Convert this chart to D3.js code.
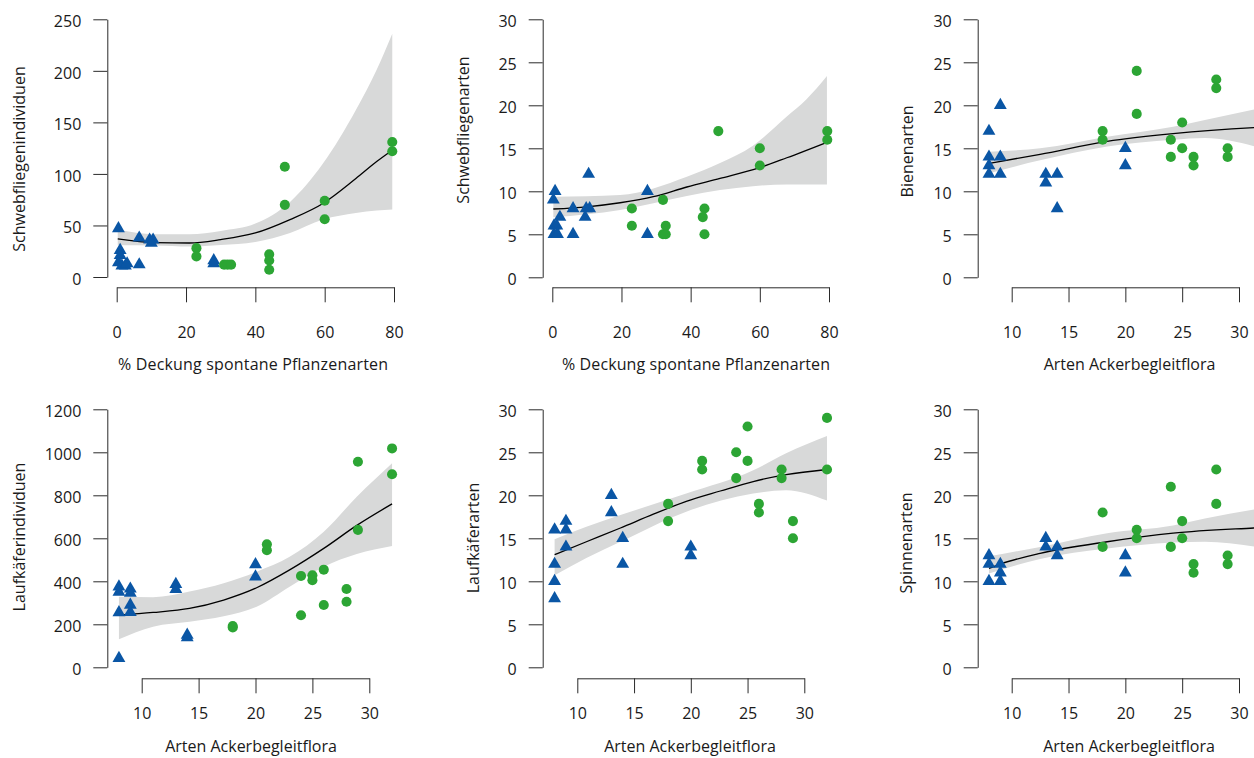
<!DOCTYPE html>
<html>
<head>
<meta charset="utf-8">
<script src="https://cdn.jsdelivr.net/npm/d3@7"></script>
<style>
  html, body { margin: 0; padding: 0; background: #fff; }
  svg text { font-family: "Open Sans", "Noto Sans", sans-serif; fill: #1a1a1a; }
</style>
</head>
<body>
<svg id="chart" width="1254" height="758"></svg>
<script>
// ---------------- DATA ----------------
// tick values
const ticksPct = [0, 20, 40, 60, 80];
const ticksArten = [10, 15, 20, 25, 30];
const ticks30 = [0, 5, 10, 15, 20, 25, 30];
const ticks250 = [0, 50, 100, 150, 200, 250];
const ticks1200 = [0, 200, 400, 600, 800, 1000, 1200];

// axis titles
const xTitlePct = "% Deckung spontane Pflanzenarten";
const xTitleArten = "Arten Ackerbegleitflora";
const yTitles = ["Schwebfliegenindividuen", "Schwebfliegenarten", "Bienenarten",
                 "Laufkäferindividuen", "Laufkäferarten", "Spinnenarten"];

// Panel A: Schwebfliegenindividuen vs % Deckung
const aBlueX = [0.5, 1, 1, 0.5, 1.5, 2.5, 3, 6.5, 6.5, 9.5, 10.5, 10, 28, 28];
const aBlueY = [47, 26, 21, 14, 11, 11, 13, 38, 12, 36, 36, 33, 16, 13];
const aGreenX = [23, 23, 31, 32, 33, 44, 44, 44, 48.5, 48.5, 60, 60, 79.5, 79.5];
const aGreenY = [28, 20, 12, 12, 12, 22, 16, 7, 107, 70, 74, 56, 131, 122];
const aFitX = [0.3, 11, 21, 30, 40, 50, 59.5, 69, 75, 79.5];
const aFit = [37, 33.4, 33, 36.3, 42.7, 55.7, 71.3, 95.5, 112, 123];
const aHi = [46, 41.5, 41.5, 44.7, 51.8, 72.8, 110, 162, 201, 236];
const aLo = [30.8, 30.5, 29.5, 31, 34, 42.7, 55.7, 62, 64.5, 65.4];

// Panel B: Schwebfliegenarten vs % Deckung
const bBlueX = [10.5, 0.8, 0.3, 6, 9.8, 10.8, 9.5, 2.2, 0.5, 1.3, 0.5, 1.5, 6, 27.5, 27.5];
const bBlueY = [12, 10, 9, 8, 8, 8, 7, 7, 6, 6, 5, 5, 5, 10, 5];
const bGreenX = [23, 23, 32, 32.8, 32, 32.8, 44, 43.5, 44, 48, 60, 60, 79.5, 79.5];
const bGreenY = [8, 6, 9, 6, 5, 5, 8, 7, 5, 17, 15, 13, 17, 16];
const bFitX = [0.3, 10, 19.6, 29.2, 38.9, 48.5, 59.9, 67.8, 79.4];
const bFit = [7.94, 8.2, 8.67, 9.37, 10.5, 11.5, 12.75, 13.9, 15.7];
const bBandX = [0.3, 19.6, 38.9, 48.5, 58, 67.8, 73.5, 79.4];
const bHi = [9.37, 9.57, 11.7, 13.3, 15.3, 18.7, 20.7, 23.4];
const bLo = [6.97, 7.83, 9.45, 10.15, 10.6, 10.8, 10.8, 10.8];

// Panel C: Bienenarten vs Arten Ackerbegleitflora
const cBlueX = [8, 9, 8, 8, 8, 9, 9, 13, 13, 14, 14, 20, 20];
const cBlueY = [17, 20, 14, 13, 12, 14, 12, 12, 11, 12, 8, 15, 13];
const cGreenX = [18, 18, 21, 21, 24, 24, 25, 25, 26, 26, 28, 28, 29, 29];
const cGreenY = [17, 16, 24, 19, 16, 14, 18, 15, 14, 13, 23, 22, 15, 14];
const cFitX = [8, 12.5, 18.4, 24.2, 31.3, 32];
const cFit = [13.25, 14.3, 15.8, 16.7, 17.4, 17.45];
const cBandX = [8, 12.5, 18.4, 24.2, 27, 32];
const cHi = [14.6, 15.0, 16.35, 17.5, 18.3, 19.7];
const cLo = [12.1, 13.6, 15.2, 16.0, 16.2, 15.0];

// Panel D: Laufkäferindividuen vs Arten Ackerbegleitflora
const dBlueX = [8, 8, 8, 8, 9, 9, 9, 9, 13, 13, 14, 14, 20, 20];
const dBlueY = [375, 350, 255, 42, 365, 345, 290, 256, 386, 363, 150, 138, 478, 421];
const dGreenX = [18, 18, 21, 21, 24, 24, 25, 25, 26, 26, 28, 28, 29, 29, 32, 32];
const dGreenY = [192, 185, 572, 545, 425, 242, 428, 405, 454, 290, 364, 305, 956, 639, 1018, 898];
const dFitX = [8, 11, 14.2, 17.2, 20.1, 23, 26, 28.9, 32];
const dFit = [243, 255, 274, 313, 370, 453, 553, 660, 760];
const dHi = [328, 326, 352, 391, 445, 514, 631, 793, 949];
const dLo = [130, 189, 212, 238, 282, 375, 468, 527, 564];

// Panel E: Laufkäferarten vs Arten Ackerbegleitflora
const eBlueX = [8, 8, 8, 8, 9, 9, 9, 13, 13, 14, 14, 20, 20];
const eBlueY = [16, 12, 10, 8, 17, 16, 14, 20, 18, 15, 12, 14, 13];
const eGreenX = [18, 18, 21, 21, 24, 24, 25, 25, 26, 26, 28, 28, 29, 29, 32, 32];
const eGreenY = [19, 17, 24, 23, 25, 22, 28, 24, 19, 18, 23, 22, 17, 15, 29, 23];
const eFitX = [8, 10.8, 13.8, 16.7, 19.6, 22.6, 25.5, 28.4, 32];
const eFit = [13.1, 14.6, 16.2, 17.8, 19.3, 20.5, 21.6, 22.4, 23.0];
const eBandX = [8, 10.8, 13.8, 19.6, 25.5, 28.4, 32];
const eHi = [14.9, 16.35, 17.7, 20.2, 22.9, 24.9, 26.9];
const eLo = [10.7, 12.7, 14.6, 18.1, 20.2, 20.6, 19.4];

// Panel F: Spinnenarten vs Arten Ackerbegleitflora
const fBlueX = [8, 8, 8, 9, 9, 9, 13, 13, 14, 14, 20, 20];
const fBlueY = [13, 12, 10, 12, 11, 10, 15, 14, 14, 13, 13, 11];
const fGreenX = [18, 18, 21, 21, 24, 24, 25, 25, 26, 26, 28, 28, 29, 29];
const fGreenY = [18, 14, 16, 15, 21, 14, 17, 15, 12, 11, 23, 19, 13, 12];
const fFitX = [8, 9, 12.5, 18.4, 24.2, 31.3, 32];
const fFit = [11.5, 12.0, 13.25, 14.6, 15.6, 16.2, 16.25];
const fBandX = [8, 12.5, 18.4, 24.2, 27, 32];
const fHi = [12.9, 14.0, 15.6, 16.5, 17.3, 18.5];
const fLo = [10.9, 12.6, 13.8, 14.5, 14.6, 13.9];

// ---------------- STYLE / LAYOUT ----------------
const BLUE = "#0a56a5", GREEN = "#2ca534", BAND = "#d8d9d9", AXIS = "#2a2a2a";
const FONT = 16;

const panels = [
  { title: yTitles[0], xTitle: xTitlePct, xTitleLen: 270, xDom: [0, 80], xRange: [116.7, 394], yDom: [0, 250], yRange: [277, 19.3],
    yAxisX: 107.3, xAxisY: 287.3, xLabBase: 51, xTitlePos: [253, 370], yTitlePos: [25, 159],
    xTicks: ticksPct, yTicks: ticks250,
    blue: [aBlueX, aBlueY], green: [aGreenX, aGreenY], fit: [aFitX, aFit], band: [aFitX, aLo, aHi] },
  { title: yTitles[1], xTitle: xTitlePct, xTitleLen: 268, xDom: [0, 80], xRange: [552.3, 829], yDom: [0, 30], yRange: [277.3, 19.3],
    yAxisX: 542.7, xAxisY: 287.3, xLabBase: 51, xTitlePos: [696, 370], yTitlePos: [469, 130],
    xTicks: ticksPct, yTicks: ticks30,
    blue: [bBlueX, bBlueY], green: [bGreenX, bGreenY], fit: [bFitX, bFit], band: [bBandX, bLo, bHi] },
  { title: yTitles[2], xTitle: xTitleArten, xTitleLen: 0, xDom: [10, 30], xRange: [1011.7, 1239], yDom: [0, 30], yRange: [277.3, 19.3],
    yAxisX: 977.7, xAxisY: 287.3, xLabBase: 51, xTitlePos: [1129.5, 370], yTitlePos: [912.7, 151.5],
    xTicks: ticksArten, yTicks: ticks30,
    blue: [cBlueX, cBlueY], green: [cGreenX, cGreenY], fit: [cFitX, cFit], band: [cBandX, cLo, cHi] },
  { title: yTitles[3], xTitle: xTitleArten, xTitleLen: 0, xDom: [10, 30], xRange: [141.7, 369.3], yDom: [0, 1200], yRange: [667.3, 409.3],
    yAxisX: 107.3, xAxisY: 678.3, xLabBase: 41, xTitlePos: [251, 752], yTitlePos: [25, 537],
    xTicks: ticksArten, yTicks: ticks1200,
    blue: [dBlueX, dBlueY], green: [dGreenX, dGreenY], fit: [dFitX, dFit], band: [dFitX, dLo, dHi] },
  { title: yTitles[4], xTitle: xTitleArten, xTitleLen: 0, xDom: [10, 30], xRange: [577.3, 804.3], yDom: [0, 30], yRange: [667.3, 409.3],
    yAxisX: 542.7, xAxisY: 678.3, xLabBase: 41, xTitlePos: [690, 752], yTitlePos: [479, 538],
    xTicks: ticksArten, yTicks: ticks30,
    blue: [eBlueX, eBlueY], green: [eGreenX, eGreenY], fit: [eFitX, eFit], band: [eBandX, eLo, eHi] },
  { title: yTitles[5], xTitle: xTitleArten, xTitleLen: 0, xDom: [10, 30], xRange: [1011.7, 1239], yDom: [0, 30], yRange: [667.3, 409.3],
    yAxisX: 977.7, xAxisY: 678.3, xLabBase: 41, xTitlePos: [1129, 752], yTitlePos: [912, 543],
    xTicks: ticksArten, yTicks: ticks30,
    blue: [fBlueX, fBlueY], green: [fGreenX, fGreenY], fit: [fFitX, fFit], band: [fBandX, fLo, fHi] }
];

const svg = d3.select("#chart");
const triSym = d3.symbol().type(d3.symbolTriangle).size(72);
const circSym = d3.symbol().type(d3.symbolCircle).size(80);

panels.forEach(p => {
  const x = d3.scaleLinear().domain(p.xDom).range(p.xRange);
  const y = d3.scaleLinear().domain(p.yDom).range(p.yRange);
  const g = svg.append("g");

  // confidence band
  const bandData = p.band[0].map((v, i) => ({ x: v, lo: p.band[1][i], hi: p.band[2][i] }));
  g.append("path")
    .datum(bandData)
    .attr("fill", BAND)
    .attr("d", d3.area().curve(d3.curveMonotoneX)
      .x(d => x(d.x)).y0(d => y(d.lo)).y1(d => y(d.hi)));

  // fitted line
  const fitData = p.fit[0].map((v, i) => ({ x: v, y: p.fit[1][i] }));
  g.append("path")
    .datum(fitData)
    .attr("fill", "none")
    .attr("stroke", "#000")
    .attr("stroke-width", 1.3)
    .attr("d", d3.line().curve(d3.curveMonotoneX).x(d => x(d.x)).y(d => y(d.y)));

  // points
  const blue = p.blue[0].map((v, i) => ({ x: v, y: p.blue[1][i] }));
  const green = p.green[0].map((v, i) => ({ x: v, y: p.green[1][i] }));
  g.selectAll("path.tri").data(blue).enter().append("path")
    .attr("class", "tri")
    .attr("d", triSym)
    .attr("fill", BLUE)
    .attr("transform", d => `translate(${x(d.x)},${y(d.y)})`);
  g.selectAll("path.dot").data(green).enter().append("path")
    .attr("class", "dot")
    .attr("d", circSym)
    .attr("fill", GREEN)
    .attr("transform", d => `translate(${x(d.x)},${y(d.y)})`);

  // y axis
  const ya = g.append("g")
    .attr("transform", `translate(${p.yAxisX},0)`)
    .call(d3.axisLeft(y).tickValues(p.yTicks).tickSize(14).tickSizeOuter(0).tickPadding(12).tickFormat(d3.format("d")));
  ya.select(".domain").attr("stroke", AXIS);
  ya.selectAll(".tick line").attr("stroke", AXIS);
  ya.selectAll(".tick text").attr("font-size", FONT).attr("font-family", null).attr("fill", "#1a1a1a").attr("dy", "0.45em");

  // x axis
  const xa = g.append("g")
    .attr("transform", `translate(0,${p.xAxisY})`)
    .call(d3.axisBottom(x).tickValues(p.xTicks).tickSize(15).tickSizeOuter(0).tickFormat(d3.format("d")));
  xa.select(".domain").attr("stroke", AXIS);
  xa.selectAll(".tick line").attr("stroke", AXIS);
  xa.selectAll(".tick text").attr("font-size", FONT).attr("font-family", null).attr("fill", "#1a1a1a")
    .attr("y", p.xLabBase).attr("dy", 0);

  // titles
  const xt = g.append("text")
    .attr("x", p.xTitlePos[0]).attr("y", p.xTitlePos[1])
    .attr("text-anchor", "middle").attr("font-size", FONT)
    .text(p.xTitle);
  if (p.xTitleLen) xt.attr("textLength", p.xTitleLen).attr("lengthAdjust", "spacing");
  g.append("text")
    .attr("transform", `translate(${p.yTitlePos[0]},${p.yTitlePos[1]}) rotate(-90)`)
    .attr("text-anchor", "middle").attr("font-size", FONT)
    .text(p.title);
});
</script>
</body>
</html>
